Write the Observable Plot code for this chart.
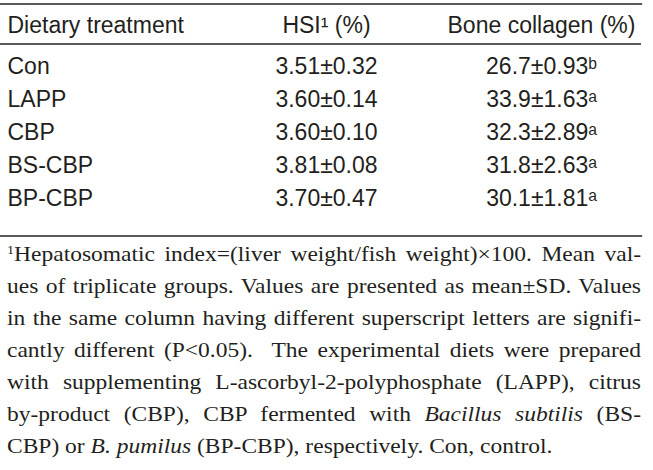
<!DOCTYPE html>
<html>
<head>
<meta charset="utf-8">
<script src="https://cdn.jsdelivr.net/npm/d3@7"></script>
<script src="https://cdn.jsdelivr.net/npm/@observablehq/plot@0.6"></script>
<style>
  html, body { margin: 0; padding: 0; background: #fff; }
  #chart svg { display: block; }
  #caption {
    font-family: "Liberation Serif", "Times New Roman", serif;
    font-size: 23.5px;
    color: #231f20;
    width: 634px;
    margin-left: 7px;
    margin-top: 0px;
  }
  #caption .ln { height: 32px; line-height: 32px; text-align: justify; text-align-last: justify; white-space: nowrap;
                 transform: scale(1, 0.9); transform-origin: 0 22px; }
  #caption .ln.last { text-align: left; text-align-last: left; }
  #caption sup { font-size: 0.6em; vertical-align: 0.5em; line-height: 0; }
</style>
</head>
<body>
<div id="chart"></div>
<div id="caption">
  <div class="ln"><sup>1</sup>Hepatosomatic index=(liver weight/fish weight)×100. Mean val-</div>
  <div class="ln">ues of triplicate groups. Values are presented as mean±SD. Values</div>
  <div class="ln">in the same column having different superscript letters are signifi-</div>
  <div class="ln">cantly different (P&lt;0.05).&nbsp; The experimental diets were prepared</div>
  <div class="ln">with supplementing L-ascorbyl-2-polyphosphate (LAPP), citrus</div>
  <div class="ln">by-product (CBP), CBP fermented with <i>Bacillus subtilis</i> (BS-</div>
  <div class="ln last">CBP) or <i>B. pumilus</i> (BP-CBP), respectively. Con, control.</div>
</div>
<script>
const rowHeader = "Dietary treatment";
const columns = ["hsi", "collagen"];
const columnHeaders = ["HSI\u00B9 (%)", "Bone collagen (%)"];
const treatments = ["Con", "LAPP", "CBP", "BS-CBP", "BP-CBP"];
const hsiMean = [3.51, 3.60, 3.60, 3.81, 3.70];
const hsiSD = [0.32, 0.14, 0.10, 0.08, 0.47];
const collagenMean = [26.7, 33.9, 32.3, 31.8, 30.1];
const collagenSD = [0.93, 1.63, 2.89, 2.63, 1.81];
const collagenLetters = ["b", "a", "a", "a", "a"];

const supChar = {a: "\u1D43", b: "\u1D47"};
const rows = treatments.map((t, i) => ({
  treatment: t,
  hsi: `${hsiMean[i].toFixed(2)}±${hsiSD[i].toFixed(2)}`,
  collagen: `${collagenMean[i].toFixed(1)}±${collagenSD[i].toFixed(2)}${supChar[collagenLetters[i]]}`
}));
const headerCells = columns.map((c, i) => ({column: c, label: columnHeaders[i]}));

const ink = "#231f20";
const fs = 23;

const plot = Plot.plot({
  width: 653,
  height: 237,
  marginTop: 3.5,
  marginBottom: 1.5,
  marginLeft: 0,
  marginRight: 12,
  style: {fontFamily: "'Liberation Sans', Arial, sans-serif", background: "#fff", color: ink},
  x: {type: "point", domain: columns, range: [326, 541], padding: 0, axis: null},
  y: {type: "point", domain: treatments, range: [72, 206.5], padding: 0, axis: null},
  marks: [
    Plot.frame({anchor: "top", stroke: ink, strokeWidth: 1.3}),
    Plot.frame({anchor: "bottom", stroke: ink, strokeWidth: 1.3}),
    Plot.ruleY([treatments[0]], {dy: -29.5, stroke: ink, strokeWidth: 1.3}),
    // header row
    Plot.text([rowHeader], {frameAnchor: "top-left", dx: 7, dy: 29, lineAnchor: "bottom", textAnchor: "start", text: d => d, fontSize: fs, fill: ink}),
    Plot.text(headerCells, {x: "column", frameAnchor: "top", dy: 29, lineAnchor: "bottom", textAnchor: "middle", text: "label", fontSize: fs, fill: ink}),
    // body rows
    Plot.text(rows, {y: "treatment", frameAnchor: "left", dx: 7, text: "treatment", lineAnchor: "bottom", textAnchor: "start", fontSize: fs, fill: ink}),
    Plot.text(rows, {x: () => "hsi", y: "treatment", text: "hsi", lineAnchor: "bottom", textAnchor: "middle", fontSize: fs, fill: ink}),
    Plot.text(rows, {x: () => "collagen", y: "treatment", text: "collagen", lineAnchor: "bottom", textAnchor: "middle", fontSize: fs, fill: ink})
  ]
});
document.getElementById("chart").appendChild(plot);
</script>
</body>
</html>
